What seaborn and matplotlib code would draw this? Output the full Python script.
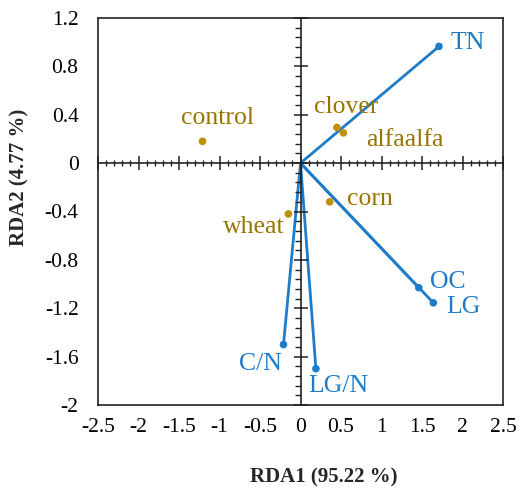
import matplotlib
matplotlib.use("Agg")
import matplotlib.pyplot as plt
import seaborn as sns
import pandas as pd
from matplotlib.ticker import MultipleLocator, FuncFormatter

# --- data ---
site_names = ["control", "clover", "alfaalfa", "corn", "wheat"]
site_x = [-1.21, 0.45, 0.53, 0.36, -0.15]
site_y = [0.18, 0.295, 0.25, -0.32, -0.42]

env_names = ["TN", "OC", "LG", "C/N", "LG/N"]
env_x = [1.71, 1.46, 1.64, -0.21, 0.19]
env_y = [0.965, -1.03, -1.155, -1.50, -1.70]

x_ticks = [-2.5, -2, -1.5, -1, -0.5, 0, 0.5, 1, 1.5, 2, 2.5]
y_ticks = [-2, -1.6, -1.2, -0.8, -0.4, 0, 0.4, 0.8, 1.2]

xlabel = "RDA1 (95.22 %)"
ylabel = "RDA2 (4.77 %)"

sites = pd.DataFrame({"name": site_names, "x": site_x, "y": site_y})
envs = pd.DataFrame({"name": env_names, "x": env_x, "y": env_y})

sns.set_theme(style="white")
plt.rcParams["font.family"] = ["Liberation Serif", "DejaVu Serif"]

GOLD = "#BF9000"
GOLD_TXT = "#9A7400"
BLUE = "#1F7CC8"

fig = plt.figure(figsize=(5.19, 4.88), dpi=100)
pos = [98 / 519, 1 - 405 / 488, (503 - 98) / 519, (405 - 18) / 488]
ax = fig.add_axes(pos)

# vectors from origin
for _, r in envs.iterrows():
    seg = pd.DataFrame({"x": [0, r["x"]], "y": [0, r["y"]]})
    sns.lineplot(data=seg, x="x", y="y", ax=ax, color=BLUE, lw=2.0,
                 sort=False, estimator=None, zorder=3)
sns.scatterplot(data=envs, x="x", y="y", ax=ax, color=BLUE, s=30,
                edgecolor="none", zorder=4)
sns.scatterplot(data=sites, x="x", y="y", ax=ax, color=GOLD, s=30,
                edgecolor="none", zorder=4)

ax.set_xlim(-2.5, 2.5)
ax.set_ylim(-2, 1.2)
ax.set_xticks(x_ticks)
ax.set_yticks(y_ticks)
fmt = FuncFormatter(lambda v, p: ("%g" % v).replace("\u2212", "-"))
ax.xaxis.set_major_formatter(fmt)
ax.yaxis.set_major_formatter(fmt)
ax.tick_params(axis="both", length=0, labelsize=15.5, colors="black")
ax.tick_params(axis="x", pad=9)
ax.tick_params(axis="y", pad=14)
for s in ax.spines.values():
    s.set_visible(True)
    s.set_color("#222222")
    s.set_linewidth(1.2)
ax.set_xlabel(xlabel, fontsize=15, fontweight="bold")
ax.set_ylabel(ylabel, fontsize=15, fontweight="bold")
ax.xaxis.label.set_va("center")
ax.xaxis.label.set_ha("center")
ax.xaxis.set_label_coords(0.558, -0.187)
ax.yaxis.label.set_va("center")
ax.yaxis.label.set_ha("center")
ax.yaxis.set_label_coords(-0.195, 0.587)

# centre axes through origin
ax2 = fig.add_axes(pos, sharex=ax, sharey=ax)
ax2.patch.set_visible(False)
for k in ["top", "right"]:
    ax2.spines[k].set_visible(False)
ax2.spines["left"].set_position(("data", 0))
ax2.spines["bottom"].set_position(("data", 0))
for k in ["left", "bottom"]:
    ax2.spines[k].set_visible(True)
    ax2.spines[k].set_color("#222222")
    ax2.spines[k].set_linewidth(1.2)
ax2.xaxis.set_minor_locator(MultipleLocator(0.1))
ax2.yaxis.set_minor_locator(MultipleLocator(0.08))
ax2.tick_params(axis="both", which="both", bottom=True, left=True,
                top=False, right=False, labelbottom=False, labelleft=False)
ax2.tick_params(axis="both", which="major", direction="inout", length=10,
                width=1.1, color="#222222")
ax2.tick_params(axis="x", which="minor", direction="inout", length=5,
                width=1.0, color="#222222")
ax2.tick_params(axis="y", which="minor", direction="out", length=4,
                width=1.0, color="#222222")
ax2.set_xlabel("")
ax2.set_ylabel("")

# labels
fs = 18.5
ax.text(-1.03, 0.37, "control", fontsize=fs, color=GOLD_TXT, ha="center", va="center")
ax.text(0.57, 0.46, "clover", fontsize=fs, color=GOLD_TXT, ha="center", va="center")
ax.text(0.81, 0.19, "alfaalfa", fontsize=fs, color=GOLD_TXT, ha="left", va="center")
ax.text(0.57, -0.30, "corn", fontsize=fs, color=GOLD_TXT, ha="left", va="center")
ax.text(-0.20, -0.53, "wheat", fontsize=fs, color=GOLD_TXT, ha="right", va="center")
ax.text(1.85, 0.99, "TN", fontsize=fs, color=BLUE, ha="left", va="center")
ax.text(1.60, -0.98, "OC", fontsize=fs, color=BLUE, ha="left", va="center")
ax.text(1.80, -1.19, "LG", fontsize=fs, color=BLUE, ha="left", va="center")
ax.text(-0.23, -1.66, "C/N", fontsize=fs, color=BLUE, ha="right", va="center")
ax.text(0.10, -1.84, "LG/N", fontsize=fs, color=BLUE, ha="left", va="center")

fig.savefig("out.png", dpi=100)
